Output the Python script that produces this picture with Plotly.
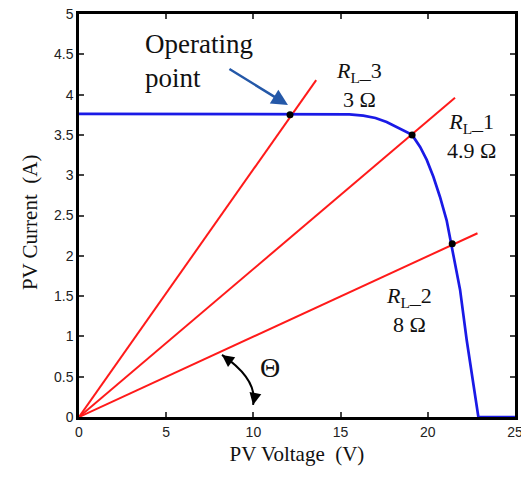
import plotly.graph_objects as go

# PV I-V curve
pv_v = [0, 5, 10, 14, 15.5, 16.3, 17.0, 17.64, 18.4, 19.1, 19.56, 19.94, 20.32,
        20.70, 21.08, 21.37, 21.85, 22.23, 22.61, 22.9, 25]
pv_i = [3.76, 3.76, 3.76, 3.76, 3.755, 3.74, 3.71, 3.66, 3.58, 3.50, 3.35, 3.19, 2.98,
        2.73, 2.44, 2.13, 1.58, 0.955, 0.42, 0, 0]

# Load lines (from origin to end point)
load_names = ["R_L_3", "R_L_1", "R_L_2"]
load_end_v = [13.6, 21.56, 22.85]
load_end_i = [4.18, 3.96, 2.28]

# Operating points
op_v = [12.1, 19.1, 21.4]
op_i = [3.75, 3.50, 2.15]

x_ticks = [0, 5, 10, 15, 20, 25]
y_ticks = [0, 0.5, 1, 1.5, 2, 2.5, 3, 3.5, 4, 4.5, 5]

serif = "Liberation Serif"

fig = go.Figure()
for name, ev, ei in zip(load_names, load_end_v, load_end_i):
    fig.add_trace(go.Scatter(x=[0, ev], y=[0, ei], mode="lines", name=name,
                             line=dict(color="#ff1a1a", width=2), showlegend=False))
fig.add_trace(go.Scatter(x=pv_v, y=pv_i, mode="lines", line=dict(color="#1a1ae6", width=2.7),
                         showlegend=False))
fig.add_trace(go.Scatter(x=op_v, y=op_i, mode="markers",
                         marker=dict(color="black", size=7), showlegend=False))

annots = []
txt = dict(family=serif, size=27, color="#111")
annots.append(dict(x=3.67, y=4.63, text="Operating", showarrow=False, xanchor="left",
                   yanchor="middle", font=txt))
annots.append(dict(x=3.67, y=4.20, text="point", showarrow=False, xanchor="left",
                   yanchor="middle", font=txt))
annots.append(dict(x=11.98, y=3.87, ax=-60, ay=-37, text="", showarrow=True,
                   arrowhead=2, arrowsize=1.3, arrowwidth=2.5, arrowcolor="#2458a8"))
lab = dict(family=serif, size=22, color="#111")
annots.append(dict(x=16.06, y=4.12, text="<i>R</i><sub>L</sub>_3<br>3 Ω", showarrow=False,
                   font=lab, align="center"))
annots.append(dict(x=22.53, y=3.49, text="<i>R</i><sub>L</sub>_1<br>4.9 Ω", showarrow=False,
                   font=lab, align="center"))
annots.append(dict(x=18.92, y=1.33, text="<i>R</i><sub>L</sub>_2<br>8 Ω", showarrow=False,
                   font=lab, align="center"))
annots.append(dict(x=10.95, y=0.61, text="Θ", showarrow=False,
                   font=dict(family=serif, size=28, color="#111")))
# theta arc arrowheads
annots.append(dict(x=8.2, y=0.77, ax=8, ay=6, text="", showarrow=True, arrowhead=2,
                   arrowsize=1.2, arrowwidth=2, arrowcolor="black"))
annots.append(dict(x=9.98, y=0.15, ax=2, ay=-10, text="", showarrow=True, arrowhead=2,
                   arrowsize=1.2, arrowwidth=2, arrowcolor="black"))
# y-axis title
annots.append(dict(xref="paper", yref="paper", x=-0.112, y=0.484, text="PV Current  (A)",
                   textangle=-90, showarrow=False, xanchor="center", yanchor="middle",
                   font=dict(family=serif, size=21, color="#111")))

fig.update_layout(
    width=521, height=479,
    margin=dict(l=79, r=6, t=14, b=62),
    paper_bgcolor="white", plot_bgcolor="white",
    annotations=annots,
    shapes=[dict(type="path", xref="x", yref="y",
                 path="M 8.2,0.77 Q 10.29,0.46 9.98,0.15",
                 line=dict(color="black", width=2))],
    xaxis=dict(range=[0, 25], tickvals=x_ticks, ticks="inside", ticklen=5, tickwidth=1.5,
               showline=True, linecolor="black", linewidth=2.5, mirror="ticks",
               showgrid=False, zeroline=False, automargin=False, ticklabeloverflow="allow",
               tickfont=dict(family="Liberation Sans", size=14, color="#222"),
               title=dict(text="PV Voltage  (V)", font=dict(family=serif, size=21, color="#111"),
                          standoff=8)),
    yaxis=dict(range=[0, 5], tickvals=y_ticks, ticks="inside", ticklen=5, tickwidth=1.5,
               showline=True, linecolor="black", linewidth=2.5, mirror="ticks",
               showgrid=False, zeroline=False, automargin=False, ticklabeloverflow="allow",
               tickfont=dict(family="Liberation Sans", size=14, color="#222")),
)

fig.write_html("out.html", config={"displayModeBar": False},
               post_script="document.body.style.margin='0';document.body.style.overflow='hidden';")
